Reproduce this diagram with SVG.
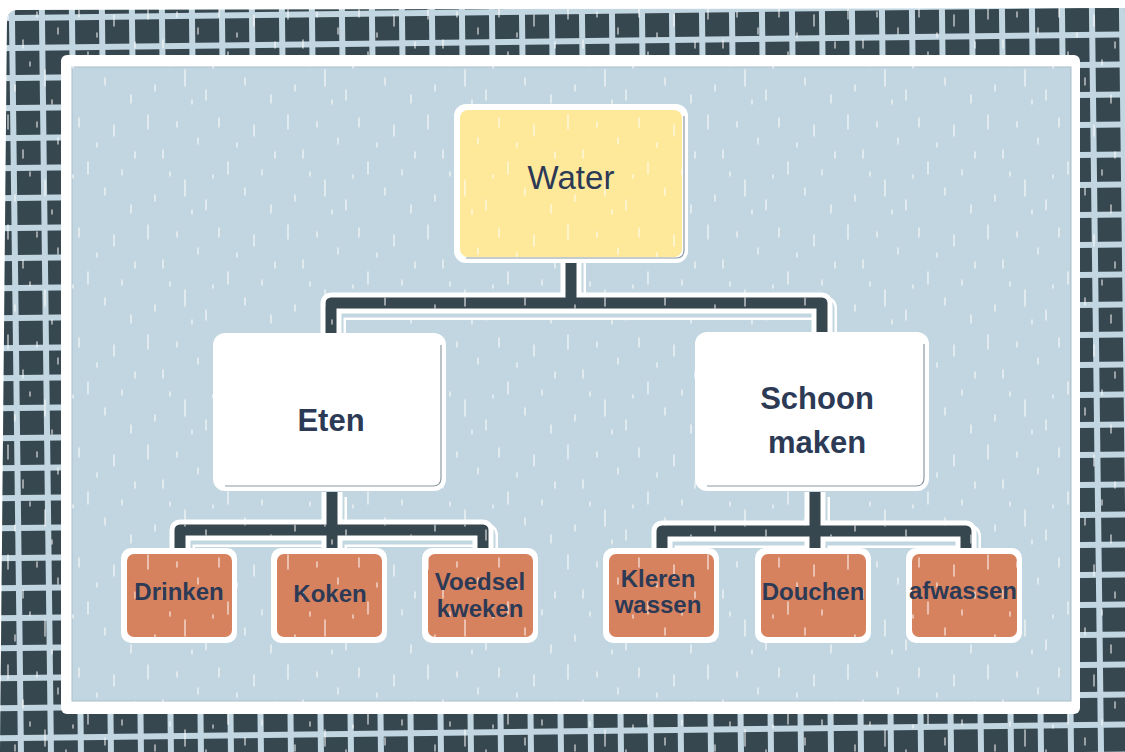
<svg xmlns="http://www.w3.org/2000/svg" width="1125" height="752" viewBox="0 0 1125 752">
<defs>
<style>
.lbl{font-family:"Liberation Sans",Arial,sans-serif;font-weight:bold;fill:#2c3a56;text-anchor:middle}
.big{font-size:31px}
.small{font-size:24px}
.top{font-family:"Liberation Sans",Arial,sans-serif;font-size:33px;fill:#2c3a56;text-anchor:middle}
.halo{fill:none;stroke:#ffffff;stroke-width:24;stroke-linejoin:round}
.gap{fill:none;stroke:#c1d6e0;stroke-width:19;stroke-linejoin:round}
.edge{fill:none;stroke:#ffffff;stroke-width:21;stroke-linejoin:round}
.bar{fill:none;stroke:#37474f;stroke-width:11;stroke-linejoin:round}
.frame{fill:#ffffff}
.orange{fill:#d7825f}
.shade{fill:none;stroke:#8c9aa1;stroke-width:1.2}
</style>
<pattern id="grid" patternUnits="userSpaceOnUse" x="15" y="21" width="30" height="30" patternTransform="rotate(-0.7 15 21)">
<rect x="0" y="0" width="24" height="24" fill="#37474f"/>
</pattern>
<pattern id="speck" patternUnits="userSpaceOnUse" width="140" height="110">
<path d="M8 5v14M23 40v8M37 12v5M45 70v16M58 28v6M66 90v10M79 8v9M88 52v12M97 33v4M105 78v7M114 15v11M122 60v5M131 95v8M15 85v6M52 100v4M73 65v3M135 42v6M30 62v4" stroke="#ffffff" stroke-width="1.4" stroke-linecap="round" opacity="0.7"/>
</pattern>
<clipPath id="card">
<path d="M17 10 L1125 8 L1125 752 L0 752 L7 20 Q8 10 17 10 Z"/>
</clipPath>
</defs>

<rect width="1125" height="752" fill="#ffffff"/>
<path d="M17 10 L1125 8 L1125 752 L0 752 L7 20 Q8 10 17 10 Z" fill="#c1d6e0"/>
<rect x="0" y="0" width="1125" height="752" fill="url(#grid)" clip-path="url(#card)"/>

<rect x="61" y="55" width="1019" height="659" rx="6" fill="#ffffff"/>
<rect x="72" y="67" width="999" height="634" fill="#c1d6e0" stroke="#a9bec8" stroke-width="1"/>
<rect x="0" y="0" width="1125" height="752" fill="url(#speck)" clip-path="url(#card)"/>

<g id="connectors">
<g transform="translate(3 5)">
<path class="halo" d="M331 336 V303 H822 V336 M571 258 V303"/>
<path class="halo" d="M180 552 V530 H483 V552 M332 492 V552"/>
<path class="halo" d="M662 552 V531 H966 V552 M815 492 V552"/>
<path class="gap" d="M331 336 V303 H822 V336 M571 258 V303"/>
<path class="gap" d="M180 552 V530 H483 V552 M332 492 V552"/>
<path class="gap" d="M662 552 V531 H966 V552 M815 492 V552"/>
</g>
<path class="edge" d="M331 336 V303 H822 V336 M571 258 V303"/>
<path class="edge" d="M180 552 V530 H483 V552 M332 492 V552"/>
<path class="edge" d="M662 552 V531 H966 V552 M815 492 V552"/>
<path class="bar" d="M331 336 V303 H822 V336 M571 258 V303"/>
<path class="bar" d="M180 552 V530 H483 V552 M332 492 V552"/>
<path class="bar" d="M662 552 V531 H966 V552 M815 492 V552"/>
<path d="M331 336 V303 H822 V336 M571 258 V303 M180 552 V530 H483 V552 M332 492 V552 M662 552 V531 H966 V552 M815 492 V552" fill="none" stroke="url(#speck)" stroke-width="11"/>
</g>

<g id="node-water">
<rect x="454" y="104" width="234" height="159" rx="12" class="frame"/>
<rect x="460" y="110" width="222" height="147" rx="8" fill="#fee99a"/>
<rect x="460" y="110" width="222" height="147" rx="8" fill="url(#speck)"/>
<path class="shade" d="M684 116 V250 Q684 258 676 258 H466"/>
<text x="571" y="189" class="top">Water</text>
</g>

<g id="node-eten">
<rect x="213" y="333" width="233" height="158" rx="12" class="frame"/>
<path class="shade" d="M441 345 V478 Q441 486 433 486 H225"/>
<text x="331" y="431" class="lbl big">Eten</text>
</g>

<g id="node-schoonmaken">
<rect x="695" y="332" width="234" height="159" rx="12" class="frame"/>
<path class="shade" d="M924 344 V478 Q924 486 916 486 H707"/>
<text x="817" y="409" class="lbl big">Schoon</text>
<text x="817" y="453" class="lbl big">maken</text>
</g>

<g id="node-drinken">
<rect x="121" y="548" width="116" height="95" rx="10" class="frame"/>
<rect x="127" y="554" width="105" height="83" rx="7" class="orange"/>
<rect x="127" y="554" width="105" height="83" rx="7" fill="url(#speck)"/>
<text x="179" y="600" class="lbl small">Drinken</text>
</g>

<g id="node-koken">
<rect x="271" y="548" width="116" height="95" rx="10" class="frame"/>
<rect x="277" y="554" width="105" height="83" rx="7" class="orange"/>
<rect x="277" y="554" width="105" height="83" rx="7" fill="url(#speck)"/>
<text x="330" y="602" class="lbl small">Koken</text>
</g>

<g id="node-voedsel">
<rect x="422" y="548" width="116" height="95" rx="10" class="frame"/>
<rect x="428" y="554" width="105" height="83" rx="7" class="orange"/>
<rect x="428" y="554" width="105" height="83" rx="7" fill="url(#speck)"/>
<text x="480" y="590" class="lbl small">Voedsel</text>
<text x="480" y="617" class="lbl small">kweken</text>
</g>

<g id="node-kleren">
<rect x="603" y="548" width="116" height="95" rx="10" class="frame"/>
<rect x="609" y="554" width="105" height="83" rx="7" class="orange"/>
<rect x="609" y="554" width="105" height="83" rx="7" fill="url(#speck)"/>
<text x="658" y="587" class="lbl small">Kleren</text>
<text x="658" y="613" class="lbl small">wassen</text>
</g>

<g id="node-douchen">
<rect x="755" y="548" width="116" height="95" rx="10" class="frame"/>
<rect x="761" y="554" width="105" height="83" rx="7" class="orange"/>
<rect x="761" y="554" width="105" height="83" rx="7" fill="url(#speck)"/>
<text x="813" y="600" class="lbl small">Douchen</text>
</g>

<g id="node-afwassen">
<rect x="906" y="548" width="116" height="95" rx="10" class="frame"/>
<rect x="912" y="554" width="105" height="83" rx="7" class="orange"/>
<rect x="912" y="554" width="105" height="83" rx="7" fill="url(#speck)"/>
<text x="963" y="599" class="lbl small">afwassen</text>
</g>
</svg>
